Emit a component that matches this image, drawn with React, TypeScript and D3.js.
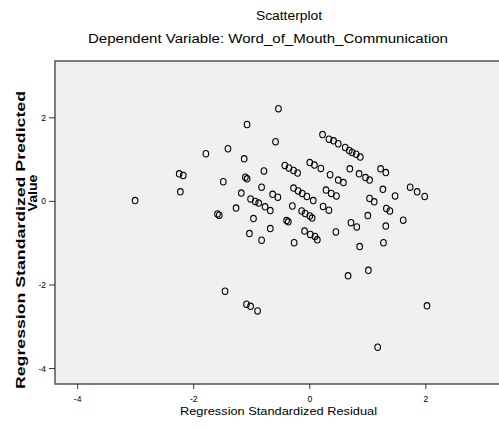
import * as d3 from "d3"

// Regression standardized residual (x) vs standardized predicted value (y)
const residuals = [
  -3.01, -2.25, -2.18, -2.23, -1.79, -1.41, -1.13, -1.08, -0.54, -0.59,
  -0.79, -1.11, -1.08, -1.49, -0.83, -1.18, -1.02, -0.94, -0.88, -0.64,
  -0.55, -1.27, -0.77, -0.68, -1.59, -1.56, -0.97, -0.68, -1.04, -0.83,
  -0.43, -0.36, -0.28, -0.21, 0.0, 0.08, 0.19, 0.22, 0.33, 0.41,
  0.49, 0.61, 0.68, 0.73, 0.8, 0.87, 0.35, 0.49, 0.58, 0.69,
  0.85, 0.96, 1.03, 1.22, 1.31, 1.26, 1.47, 1.73, 1.85, 1.98,
  -0.28, -0.2, -0.13, -0.05, 0.06, 0.28, 0.37, 0.46, 1.03, 1.11,
  -0.3, -0.14, -0.08, 0.0, 0.04, 0.23, 0.33, 1.32, 1.38, -0.4,
  -0.37, 1.0, 1.61, 0.71, 0.81, 1.31, -0.09, 0.01, 0.09, 0.13,
  0.45, -0.27, 0.86, 1.27, -1.46, -1.09, -1.02, -0.9, 0.66, 1.01,
  2.02, 1.17,
]
const predicted = [
  0.02, 0.66, 0.62, 0.23, 1.14, 1.26, 1.02, 1.84, 2.22, 1.43,
  0.73, 0.58, 0.54, 0.47, 0.34, 0.2, 0.06, 0.0, -0.04, 0.17,
  0.1, -0.16, -0.13, -0.22, -0.3, -0.33, -0.41, -0.65, -0.77, -0.93,
  0.86, 0.8, 0.74, 0.68, 0.93, 0.87, 0.79, 1.6, 1.49, 1.45,
  1.38, 1.29, 1.22, 1.17, 1.13, 1.06, 0.64, 0.51, 0.45, 0.78,
  0.66, 0.57, 0.51, 0.78, 0.69, 0.29, 0.13, 0.34, 0.23, 0.12,
  0.32, 0.25, 0.19, 0.12, 0.02, 0.27, 0.19, 0.13, 0.07, -0.01,
  -0.11, -0.23, -0.29, -0.35, -0.4, -0.12, -0.21, -0.17, -0.23, -0.46,
  -0.49, -0.34, -0.45, -0.51, -0.61, -0.59, -0.71, -0.79, -0.84, -0.92,
  -0.73, -0.99, -1.08, -0.99, -2.15, -2.46, -2.51, -2.62, -1.78, -1.65,
  -2.5, -3.49,
]
const xTicks = [-4, -2, 0, 2]
const yTicks = [-4, -2, 0, 2]

const title = "Scatterplot"
const subtitle = "Dependent Variable: Word_of_Mouth_Communication"
const xTitle = "Regression Standardized Residual"
const yTitle1 = "Regression Standardized Predicted"
const yTitle2 = "Value"

const font = "'Liberation Sans', Arial, sans-serif"

export default function App() {
  const left = 55
  const right = 510
  const top = 61
  const bottom = 384

  const x = d3.scaleLinear().domain([-4.39, 3.45]).range([left, right])
  const y = d3.scaleLinear().domain([-4.37, 3.36]).range([bottom, top])

  const points = d3.zip(residuals, predicted)

  return (
    <svg
      width={499}
      height={429}
      style={{ position: "absolute", left: 0, top: 0, background: "#fff" }}
      fontFamily={font}
    >
      <text x={289} y={20} textAnchor="middle" fontSize={12} textLength={66} lengthAdjust="spacingAndGlyphs">
        {title}
      </text>
      <text x={268} y={43} textAnchor="middle" fontSize={12.5} textLength={360} lengthAdjust="spacingAndGlyphs">
        {subtitle}
      </text>

      <rect x={left} y={top} width={right - left} height={bottom - top} fill="#f0f0f0" stroke="#555" strokeWidth={1.5} />

      {/* x axis */}
      <g>
        {xTicks.map((t) => (
          <line key={"xl" + t} x1={x(t)} x2={x(t)} y1={bottom} y2={bottom + 5} stroke="#333" strokeWidth={1} />
        ))}
        {xTicks.map((t) => (
          <text key={"xt" + t} x={x(t)} y={402} textAnchor="middle" fontSize={8.5} fill="#000">
            {String(t)}
          </text>
        ))}
      </g>
      <text x={278.5} y={414.5} textAnchor="middle" fontSize={11.5} textLength={197} lengthAdjust="spacingAndGlyphs">
        {xTitle}
      </text>

      {/* y axis */}
      {yTicks.map((t) => (
        <g key={"y" + t}>
          <line x1={left - 6} x2={left} y1={y(t)} y2={y(t)} stroke="#333" strokeWidth={1} />
          <text x={46} y={y(t) + 3} textAnchor="end" fontSize={8.5}>
            {String(t)}
          </text>
        </g>
      ))}
      <text
        transform="translate(25,240) rotate(-90)"
        textAnchor="middle"
        fontSize={12}
        fontWeight="bold"
        textLength={298}
        lengthAdjust="spacingAndGlyphs"
      >
        {yTitle1}
      </text>
      <text
        transform="translate(37,193) rotate(-90)"
        textAnchor="middle"
        fontSize={12}
        fontWeight="bold"
        textLength={37}
        lengthAdjust="spacingAndGlyphs"
      >
        {yTitle2}
      </text>

      {/* points */}
      {points.map(([px, py], i) => (
        <ellipse key={i} cx={x(px)} cy={y(py)} rx={2.8} ry={3.2} fill="none" stroke="#000" strokeWidth={1.1} />
      ))}
    </svg>
  )
}
